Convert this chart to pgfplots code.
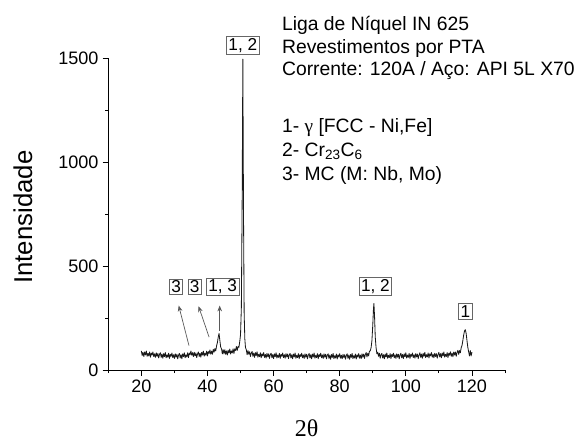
\documentclass[border=0pt]{standalone}
\usepackage{pgfplots}
\pgfplotsset{compat=1.18}
\usepackage{pgfplotstable}
\usepackage{fontspec}
\setmainfont{Liberation Sans}
\newfontfamily\timesfont{Liberation Serif}
\usetikzlibrary{arrows.meta}

% XRD pattern
\pgfplotstableread{
x y
20.00 92
20.25 70
20.50 85
20.75 65
21.00 87
21.25 73
21.50 92
21.75 66
22.00 80
22.25 68
22.50 87
22.75 62
23.00 82
23.25 72
23.50 87
23.75 65
24.00 78
24.25 61
24.50 83
24.75 66
25.00 80
25.25 58
25.50 76
25.75 83
26.00 61
26.25 77
26.50 57
26.75 79
27.00 65
27.25 84
27.50 59
27.75 73
28.00 62
28.25 81
28.50 56
28.75 76
29.00 66
29.25 82
29.50 60
29.75 74
30.00 56
30.25 78
30.50 62
30.75 76
31.00 54
31.25 72
31.50 80
31.75 58
32.00 74
32.25 54
32.50 78
32.75 64
33.00 83
33.25 59
33.50 73
33.75 63
34.00 83
34.25 60
34.50 82
34.75 74
35.00 92
35.25 71
35.50 84
35.75 65
36.00 85
36.25 68
36.50 82
36.75 60
37.00 78
37.25 87
37.50 65
37.75 81
38.00 62
38.25 85
38.50 72
38.75 91
39.00 67
39.25 81
39.50 71
39.75 91
40.00 68
40.25 89
40.50 80
40.75 97
41.00 76
41.25 91
41.50 76
41.75 100
42.00 86
42.25 103
42.50 92
42.75 116
43.00 132
43.25 158
43.50 176
43.75 142
44.00 110
44.25 102
44.50 78
44.75 98
45.00 78
45.25 98
45.50 76
45.75 92
46.00 72
46.25 95
46.50 82
46.75 101
47.00 77
47.25 92
47.50 82
47.75 102
48.00 80
48.25 102
48.50 94
48.75 113
49.00 94
49.25 113
49.50 109
49.75 135
50.00 170
50.25 300
50.50 830
50.70 1495
50.90 760
51.10 270
51.30 150
51.50 108
51.75 98
52.00 74
52.25 94
52.50 76
52.75 88
53.00 65
53.25 82
53.50 89
53.75 66
54.00 82
54.25 61
54.50 84
54.75 69
55.00 88
55.25 62
55.50 76
55.75 64
56.00 83
56.25 59
56.50 78
56.75 68
57.00 84
57.25 61
57.50 75
57.75 58
58.00 80
58.25 64
58.50 78
58.75 56
59.00 74
59.25 81
59.50 59
59.75 75
60.00 55
60.25 78
60.50 64
60.75 83
61.00 58
61.25 72
61.50 61
61.75 80
62.00 56
62.25 76
62.50 66
62.75 82
63.00 60
63.25 74
63.50 57
63.75 79
64.00 63
64.25 77
64.50 55
64.75 73
65.00 80
65.25 58
65.50 74
65.75 54
66.00 77
66.25 63
66.50 82
66.75 57
67.00 71
67.25 60
67.50 79
67.75 55
68.00 75
68.25 65
68.50 81
68.75 59
69.00 73
69.25 56
69.50 78
69.75 62
70.00 76
70.25 54
70.50 72
70.75 80
71.00 58
71.25 74
71.50 54
71.75 77
72.00 63
72.25 82
72.50 57
72.75 71
73.00 60
73.25 79
73.50 55
73.75 75
74.00 65
74.25 81
74.50 59
74.75 73
75.00 56
75.25 78
75.50 62
75.75 76
76.00 54
76.25 72
76.50 78
76.75 56
77.00 72
77.25 52
77.50 75
77.75 61
78.00 80
78.25 55
78.50 69
78.75 58
79.00 77
79.25 53
79.50 73
79.75 63
80.00 79
80.25 57
80.50 71
80.75 54
81.00 76
81.25 60
81.50 74
81.75 52
82.00 70
82.25 78
82.50 56
82.75 72
83.00 52
83.25 75
83.50 61
83.75 80
84.00 55
84.25 69
84.50 58
84.75 77
85.00 53
85.25 73
85.50 63
85.75 79
86.00 57
86.25 72
86.50 55
86.75 78
87.00 62
87.25 77
87.50 56
87.75 75
88.00 84
88.25 63
88.50 81
88.75 68
89.00 91
89.25 92
89.50 108
89.75 142
90.00 215
90.20 290
90.35 320
90.55 255
90.75 160
91.00 108
91.25 78
91.50 86
91.75 66
92.00 81
92.25 57
92.50 74
92.75 80
93.00 58
93.25 74
93.50 54
93.75 77
94.00 63
94.25 82
94.50 57
94.75 71
95.00 60
95.25 79
95.50 55
95.75 75
96.00 65
96.25 81
96.50 59
96.75 73
97.00 56
97.25 78
97.50 62
97.75 76
98.00 54
98.25 72
98.50 81
98.75 59
99.00 75
99.25 55
99.50 78
99.75 64
100.00 83
100.25 58
100.50 72
100.75 61
101.00 80
101.25 56
101.50 76
101.75 66
102.00 82
102.25 60
102.50 74
102.75 57
103.00 79
103.25 63
103.50 77
103.75 55
104.00 73
104.25 83
104.50 61
104.75 77
105.00 57
105.25 80
105.50 66
105.75 85
106.00 60
106.25 74
106.50 63
106.75 82
107.00 58
107.25 78
107.50 68
107.75 84
108.00 62
108.25 76
108.50 59
108.75 81
109.00 65
109.25 79
109.50 57
109.75 75
110.00 85
110.25 63
110.50 79
110.75 59
111.00 82
111.25 68
111.50 87
111.75 62
112.00 76
112.25 65
112.50 84
112.75 60
113.00 81
113.25 71
113.50 88
113.75 66
114.00 81
114.25 64
114.50 87
114.75 72
115.00 87
115.25 66
115.50 85
115.75 95
116.00 75
116.25 94
116.50 83
116.75 108
117.00 118
117.25 142
117.50 168
117.75 188
118.00 194
118.25 176
118.50 142
118.75 110
119.00 88
119.25 68
119.50 94
119.75 68
120.00 86
}\xrd

\begin{document}
\begin{tikzpicture}
\begin{axis}[
  scale only axis,
  width=11.9cm, height=9.36cm,
  xmin=10, xmax=130,
  ymin=0, ymax=1500,
  axis x line=bottom, axis y line=left,
  axis line style={-, line width=0.8pt},
  xtick={20,40,...,120},
  minor xtick={10,30,...,130},
  ytick={0,500,1000,1500},
  minor ytick={250,750,1250},
  tick align=outside,
  major tick length=0.17cm,
  minor tick length=0.09cm,
  every tick/.style={black, line width=0.7pt},
  /pgf/number format/assume math mode=true,
  /pgf/number format/set thousands separator={},
  tick label style={font=\fontsize{15.4}{18}\selectfont},
  xlabel={\timesfont 2θ},
  ylabel={Intensidade},
  xlabel style={font=\fontsize{20.5}{24}\selectfont, at={(axis description cs:0.5,-0.186)}, anchor=center},
  ylabel style={font=\fontsize{22}{26}\selectfont, at={(axis description cs:-0.215,0.49)}, anchor=center},
  clip=false,
]
\path (rel axis cs:-0.273,-0.218) rectangle (rel axis cs:1.179,1.186);

\addplot[black!90, line width=0.7pt, line join=round] table[x=x, y=y] {\xrd};

% peak labels
\begin{scope}[every node/.style={draw=gray!80!black, line width=0.6pt, inner sep=1.6pt, font=\fontsize{14.7}{17}\selectfont}]
\node at (axis cs:50.7,1560) {1, 2};
\node at (axis cs:30.5,400) {3};
\node at (axis cs:36.1,400) {3};
\node at (axis cs:44.6,400) {1, 3};
\node at (axis cs:90.8,403) {1, 2};
\node at (axis cs:118.0,281) {1};
\end{scope}

\draw[gray!70!black, line width=0.6pt, -{Stealth[length=5pt,width=4pt]}] (axis cs:34.4,118) -- (axis cs:31.3,310);
\draw[gray!70!black, line width=0.6pt, -{Stealth[length=5pt,width=4pt]}] (axis cs:40.5,158) -- (axis cs:37.3,307);
\draw[gray!70!black, line width=0.6pt, -{Stealth[length=5pt,width=4pt]}] (axis cs:43.7,190) -- (axis cs:43.7,310);

% annotation text
\begin{scope}[every node/.style={anchor=base west, inner sep=0pt, font=\fontsize{16.5}{19}\selectfont}]
\node at (axis cs:62.5,1632) {Liga de Níquel IN 625};
\node at (axis cs:62.5,1521) {Revestimentos por PTA};
\node at (axis cs:62.5,1415) {Corrente: 120A / Aço: API 5L X70};
\node at (axis cs:62.5,1140) {1- {\timesfont γ} [FCC - Ni,Fe]};
\node at (axis cs:62.5,1027) {2- Cr\textsubscript{23}C\textsubscript{6}};
\node at (axis cs:62.5,912) {3- MC (M: Nb, Mo)};
\end{scope}
\end{axis}
\end{tikzpicture}
\end{document}
